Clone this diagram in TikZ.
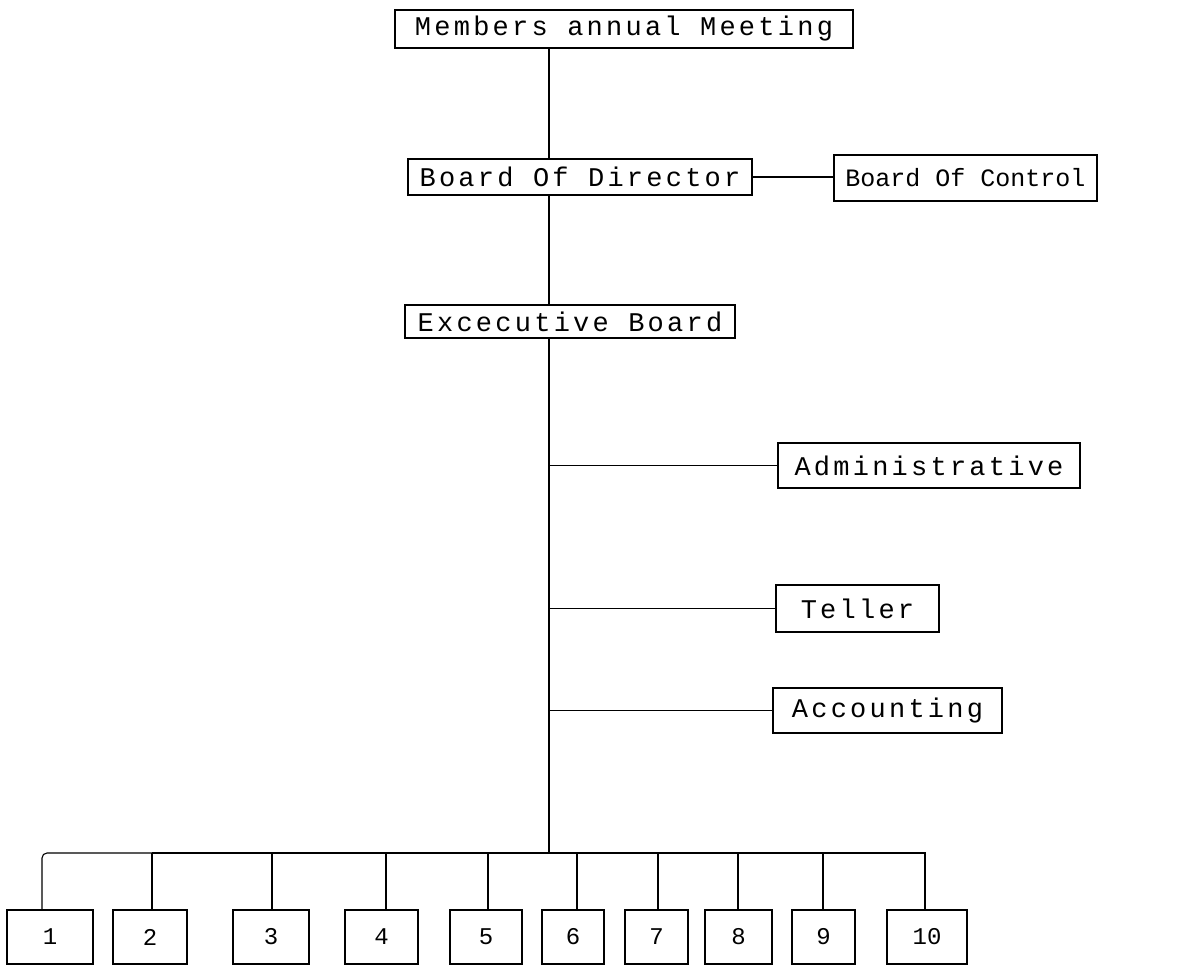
\documentclass[tikz,border=0pt]{standalone}
\usepackage{fontspec}
\newfontfamily\orgfont{Liberation Mono}[LetterSpace=12]
\newfontfamily\orgnarrowfont{Liberation Mono}
\tikzset{
    orgbox/.style={draw, line width=1.1pt, inner sep=0pt, font={\fontsize{27}{30}\selectfont\orgfont}},
    numbox/.style={draw, line width=1.1pt, inner sep=0pt, minimum height=54pt, font={\fontsize{24}{26}\selectfont\orgnarrowfont}},
    link/.style={line width=1.1pt}
}
\begin{document}
\begin{tikzpicture}[x=1pt, y=-1pt]
        \useasboundingbox (0,0) rectangle (1177,966);

        % Top of the chart
        \node[orgbox, minimum width=458pt, minimum height=38pt] (meeting) at (624,29) {Members annual Meeting};
        \node[orgbox, minimum width=344pt, minimum height=36pt] (director) at (580,177) {Board Of Director};
        \node[orgbox, font={\fontsize{25}{28}\selectfont\orgnarrowfont}, minimum width=263pt, minimum height=46pt] (control) at (965.5,178) {Board Of Control};
        \node[orgbox, minimum width=330pt, minimum height=33pt] (executive) at (570,321.5) {Excecutive Board};

        % Departments
        \node[orgbox, minimum width=302pt, minimum height=45pt] (admin) at (929,465.5) {Administrative};
        \node[orgbox, minimum width=163pt, minimum height=47pt] (teller) at (857.5,608.5) {Teller};
        \node[orgbox, minimum width=229pt, minimum height=45pt] (accounting) at (887.5,710.5) {Accounting};

        % Main trunk
        \coordinate (trunk) at (549,0);
        \coordinate (bus) at (549,853);
        \draw[link] (meeting.south -| trunk) -- (director.north -| trunk);
        \draw[link] (director.south -| trunk) -- (executive.north -| trunk);
        \draw[link] (director.east) -- (director.east -| control.west);
        \draw[link] (executive.south -| trunk) -- (bus);

        % Branches to the departments
        \draw[link] (admin.west -| trunk) -- (admin.west);
        \draw[link] (teller.west -| trunk) -- (teller.west);
        \draw[link] (accounting.west -| trunk) -- (accounting.west);

        % Bottom row of units
        \node[numbox, minimum width=86pt] (n1) at (50,937) {1};
        \node[numbox, minimum width=74pt] (n2) at (150,937) {2};
        \node[numbox, minimum width=76pt] (n3) at (271,937) {3};
        \node[numbox, minimum width=73pt] (n4) at (381.5,937) {4};
        \node[numbox, minimum width=72pt] (n5) at (486,937) {5};
        \node[numbox, minimum width=62pt] (n6) at (573,937) {6};
        \node[numbox, minimum width=63pt] (n7) at (656.5,937) {7};
        \node[numbox, minimum width=67pt] (n8) at (738.5,937) {8};
        \node[numbox, minimum width=63pt] (n9) at (823.5,937) {9};
        \node[numbox, minimum width=80pt] (n10) at (927,937) {10};

        % Drops from the bus
        \coordinate (d1) at (42,853);
        \coordinate (d2) at (152,853);
        \coordinate (d3) at (272,853);
        \coordinate (d4) at (386,853);
        \coordinate (d5) at (488,853);
        \coordinate (d6) at (577,853);
        \coordinate (d7) at (658,853);
        \coordinate (d8) at (738,853);
        \coordinate (d9) at (823,853);
        \coordinate (d10) at (925,853);
        \draw[link, rounded corners=5pt] (d1 |- n1.north) -- (d1) -- (d2);
        \draw[link] (d2) -- (d10) -- (d10 |- n10.north);
        \draw[link] (d2) -- (d2 |- n2.north);
        \draw[link] (d3) -- (d3 |- n3.north);
        \draw[link] (d4) -- (d4 |- n4.north);
        \draw[link] (d5) -- (d5 |- n5.north);
        \draw[link] (d6) -- (d6 |- n6.north);
        \draw[link] (d7) -- (d7 |- n7.north);
        \draw[link] (d8) -- (d8 |- n8.north);
        \draw[link] (d9) -- (d9 |- n9.north);

    \end{tikzpicture}
\end{document}
